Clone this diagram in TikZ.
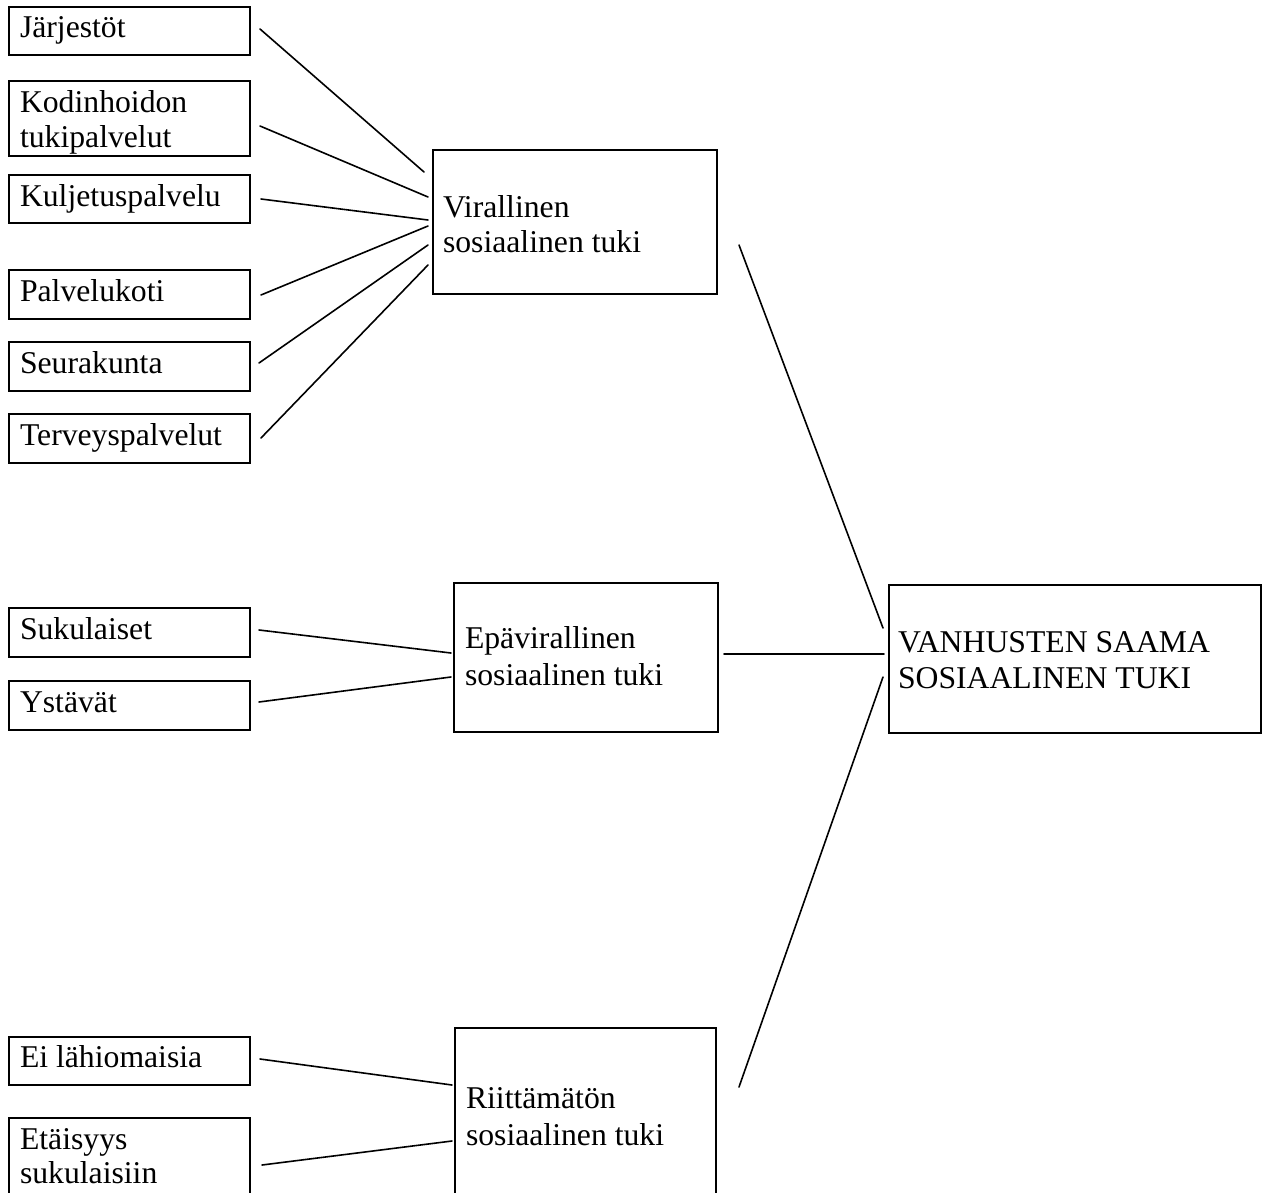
\documentclass[tikz,border=0pt]{standalone}
\usepackage{fontspec}
\setmainfont{Liberation Serif}
\newcommand\bigtxt{\fontsize{31.7}{35}\selectfont}
\tikzset{
  boxn/.style={draw, line width=1.8pt, inner sep=0pt, outer sep=0pt, anchor=north west},
  txt/.style={inner sep=0pt, outer sep=0pt, anchor=base west, font=\bigtxt},
  conn/.style={line width=1.6pt, line cap=round}
}
\begin{document}
\begin{tikzpicture}[x=1pt, y=-1pt]
\useasboundingbox (0,0) rectangle (1268,1193);
\fill[white] (0,0) rectangle (1268,1193);
\clip (0,0) rectangle (1268,1193);

% left boxes, top group
\node[boxn, minimum width=241pt, minimum height=48pt] (jar) at (9,7) {};
\node[txt] (tjar) at (20,38) {Järjestöt};
\node[boxn, minimum width=241pt, minimum height=75pt] (kod) at (9,81) {};
\node[txt] (tkod1) at (20,113) {Kodinhoidon};
\node[txt] (tkod2) at (20,148) {tukipalvelut};
\node[boxn, minimum width=241pt, minimum height=48pt] (kul) at (9,175) {};
\node[txt] (tkul) at (20,206) {Kuljetuspalvelu};
\node[boxn, minimum width=241pt, minimum height=49pt] (pal) at (9,270) {};
\node[txt] (tpal) at (20,301) {Palvelukoti};
\node[boxn, minimum width=241pt, minimum height=49pt] (seu) at (9,342) {};
\node[txt] (tseu) at (20,373) {Seurakunta};
\node[boxn, minimum width=241pt, minimum height=49pt] (ter) at (9,414) {};
\node[txt] (tter) at (20,445) {Terveyspalvelut};

% middle group
\node[boxn, minimum width=241pt, minimum height=49pt] (suk) at (9,608) {};
\node[txt] (tsuk) at (20,639) {Sukulaiset};
\node[boxn, minimum width=241pt, minimum height=49pt] (yst) at (9,681) {};
\node[txt] (tyst) at (20,712) {Ystävät};

% bottom group
\node[boxn, minimum width=241pt, minimum height=48pt] (eil) at (9,1037) {};
\node[txt] (teil) at (20,1067) {Ei lähiomaisia};
\node[boxn, minimum width=241pt, minimum height=120pt] (eta) at (9,1118) {};
\node[txt] (teta1) at (20,1149) {Etäisyys};
\node[txt] (teta2) at (20,1183) {sukulaisiin};

% category boxes
\node[boxn, minimum width=284pt, minimum height=144pt] (vir) at (433,150) {};
\node[txt] (tvir1) at (443,217) {Virallinen};
\node[txt] (tvir2) at (443,252) {sosiaalinen tuki};
\node[boxn, minimum width=264pt, minimum height=149pt] (epa) at (454,583) {};
\node[txt] (tepa1) at (465,648) {Epävirallinen};
\node[txt] (tepa2) at (465,685) {sosiaalinen tuki};
\node[boxn, minimum width=261pt, minimum height=220pt] (rii) at (455,1028) {};
\node[txt] (trii1) at (466,1108) {Riittämätön};
\node[txt] (trii2) at (466,1145) {sosiaalinen tuki};

% main box
\node[boxn, minimum width=372pt, minimum height=148pt] (van) at (889,585) {};
\node[txt] (tvan1) at (898,652) {VANHUSTEN SAAMA};
\node[txt] (tvan2) at (898,688) {SOSIAALINEN TUKI};

% connector end points
\coordinate (jarR) at (260,29);   \coordinate (virA) at (424,172);
\coordinate (kodR) at (260,126);  \coordinate (virB) at (428,197);
\coordinate (kulR) at (261,199);  \coordinate (virC) at (428,220);
\coordinate (palR) at (261,295);  \coordinate (virD) at (428,226);
\coordinate (seuR) at (259,363);  \coordinate (virE) at (428,245);
\coordinate (terR) at (261,438);  \coordinate (virF) at (428,265);
\coordinate (sukR) at (259,630);  \coordinate (epaA) at (451,653);
\coordinate (ystR) at (259,702);  \coordinate (epaB) at (451,677);
\coordinate (eilR) at (260,1059); \coordinate (riiA) at (452,1085);
\coordinate (etaR) at (262,1165); \coordinate (riiB) at (452,1141);
\coordinate (virR) at (739,245);  \coordinate (vanA) at (883,628);
\coordinate (epaR) at (724,654);  \coordinate (vanB) at (884,654);
\coordinate (riiR) at (739,1087); \coordinate (vanC) at (883,677);

\draw[conn] (jarR) -- (virA);
\draw[conn] (kodR) -- (virB);
\draw[conn] (kulR) -- (virC);
\draw[conn] (palR) -- (virD);
\draw[conn] (seuR) -- (virE);
\draw[conn] (terR) -- (virF);
\draw[conn] (sukR) -- (epaA);
\draw[conn] (ystR) -- (epaB);
\draw[conn] (eilR) -- (riiA);
\draw[conn] (etaR) -- (riiB);
\draw[conn] (virR) -- (vanA);
\draw[conn] (epaR) -- (vanB);
\draw[conn] (riiR) -- (vanC);
\end{tikzpicture}
\end{document}
